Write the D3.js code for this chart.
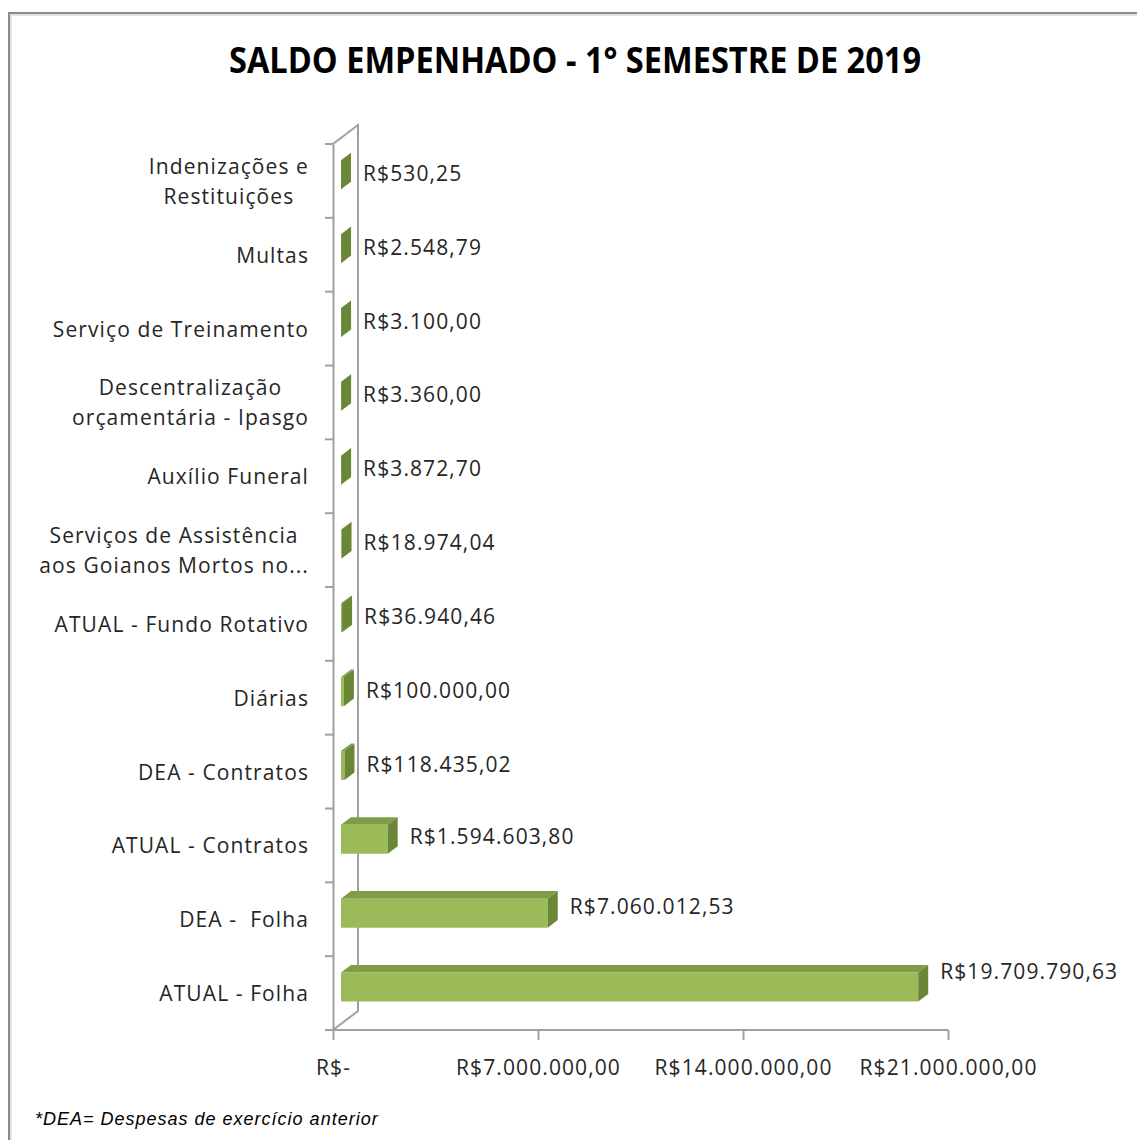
<!DOCTYPE html>
<html>
<head>
<meta charset="utf-8">
<script src="https://cdn.jsdelivr.net/npm/d3@7"></script>
<style>
  body { margin: 0; background: #fff; }
  text { font-family: "Open Sans", sans-serif; fill: #262626; }
</style>
</head>
<body>
<div id="chart"></div>
<script>
// Chart data
var categories = [
    "Indenizações e\nRestituições",
    "Multas",
    "Serviço de Treinamento",
    "Descentralização\norçamentária - Ipasgo",
    "Auxílio Funeral",
    "Serviços de Assistência\naos Goianos Mortos no...",
    "ATUAL - Fundo Rotativo",
    "Diárias",
    "DEA - Contratos",
    "ATUAL - Contratos",
    "DEA -  Folha",
    "ATUAL - Folha"
];
var values = [530.25, 2548.79, 3100.00, 3360.00, 3872.70, 18974.04, 36940.46,
    100000.00, 118435.02, 1594603.80, 7060012.53, 19709790.63];
var xTicks = [0, 7000000, 14000000, 21000000];
var title = "SALDO EMPENHADO - 1° SEMESTRE DE 2019";
var footnote = "*DEA= Despesas de exercício anterior";

// SVG area
var svgWidth = 1137;
var svgHeight = 1140;

// plot area (front plane)
var plot = { left: 333, right: 948, top: 144, bottom: 1030 };

// 3D depth of the side wall and of the bars
var depth = { dx: 25, dy: -19 };
var barFront = 0.32, barBack = 0.72;

var colors = {
    front: "#9bbb59",
    top: "#7f9c47",
    side: "#6a8737",
    axis: "#a0a0a0",
    frame: "#8a8a8a"
};

var labelFont = "21px";
var labelSpacing = "1.1px";

// pt-BR currency format
var ptBR = d3.formatLocale({
    decimal: ",",
    thousands: ".",
    grouping: [3],
    currency: ["R$", ""]
});
var money = ptBR.format("$,.2f");

var svg = d3.select("#chart")
    .append("svg")
    .attr("width", svgWidth)
    .attr("height", svgHeight);

// outer frame of the chart
svg.append("rect")
    .attr("x", 9)
    .attr("y", 13)
    .attr("width", svgWidth + 20)
    .attr("height", svgHeight + 20)
    .attr("fill", "none")
    .attr("stroke", colors.frame)
    .attr("stroke-width", 2);
svg.append("rect")
    .attr("x", 11)
    .attr("y", 15)
    .attr("width", svgWidth + 20)
    .attr("height", svgHeight + 20)
    .attr("fill", "none")
    .attr("stroke", "#dcdcdc")
    .attr("stroke-width", 1.5);

// title
svg.append("text")
    .attr("x", 575)
    .attr("y", 73)
    .attr("text-anchor", "middle")
    .attr("font-size", "35px")
    .attr("font-weight", "bold")
    .attr("textLength", 692)
    .attr("lengthAdjust", "spacingAndGlyphs")
    .style("fill", "#000")
    .text(title);

// scales
var xScale = d3.scaleLinear()
    .domain([0, 21000000])
    .range([plot.left, plot.right]);

var yScale = d3.scaleBand()
    .domain(categories)
    .range([plot.top, plot.bottom]);

// side wall (left) of the 3D frame
svg.append("path")
    .attr("d", d3.line()([
        [plot.left, plot.top],
        [plot.left + depth.dx, plot.top + depth.dy],
        [plot.left + depth.dx, plot.bottom + depth.dy],
        [plot.left, plot.bottom]
    ]))
    .attr("fill", "none")
    .attr("stroke", colors.axis)
    .attr("stroke-width", 2);

// y axis (front edge) with ticks between categories
var leftAxis = d3.axisLeft(yScale).tickSize(0).tickFormat("");
var yAxisG = svg.append("g")
    .attr("transform", `translate(${plot.left}, 0)`)
    .call(leftAxis);
yAxisG.select(".domain").attr("stroke", colors.axis).attr("stroke-width", 2);

var boundaries = categories.map(c => yScale(c)).concat([plot.bottom]);
svg.selectAll(".ytick")
    .data(boundaries)
    .enter()
    .append("line")
    .attr("x1", plot.left - 8)
    .attr("x2", plot.left)
    .attr("y1", d => d)
    .attr("y2", d => d)
    .attr("stroke", colors.axis)
    .attr("stroke-width", 2);

// x axis
var bottomAxis = d3.axisBottom(xScale)
    .tickValues(xTicks)
    .tickSize(10)
    .tickPadding(20)
    .tickFormat(d => d === 0 ? "R$-" : money(d));

var xAxisG = svg.append("g")
    .attr("transform", `translate(0, ${plot.bottom})`)
    .call(bottomAxis);
xAxisG.select(".domain")
    .attr("d", `M${plot.left - 8},0H${plot.right}`)
    .attr("stroke", colors.axis)
    .attr("stroke-width", 2);
xAxisG.selectAll(".tick line").attr("stroke", colors.axis).attr("stroke-width", 2);
xAxisG.selectAll(".tick text")
    .attr("font-size", labelFont)
    .attr("font-family", "Open Sans, sans-serif")
    .attr("letter-spacing", labelSpacing)
    .style("fill", "#262626");

// 3D bars
var fx = barFront * depth.dx, fy = barFront * depth.dy;
var bx = barBack * depth.dx, by = barBack * depth.dy;
var halfH = 14.5;

var barGroups = svg.selectAll(".bar")
    .data(values)
    .enter()
    .append("g")
    .attr("class", "bar");

barGroups.each(function (v, i) {
    var g = d3.select(this);
    var c = yScale(categories[i]) + yScale.bandwidth() / 2;
    var x0 = xScale(0), x1 = xScale(v);
    var t = c - halfH, b = c + halfH;

    // top face
    g.append("path")
        .attr("d", d3.line()([[x0 + fx, t + fy], [x1 + fx, t + fy], [x1 + bx, t + by], [x0 + bx, t + by]]) + "Z")
        .attr("fill", colors.top);
    // front face
    g.append("path")
        .attr("d", d3.line()([[x0 + fx, t + fy], [x1 + fx, t + fy], [x1 + fx, b + fy], [x0 + fx, b + fy]]) + "Z")
        .attr("fill", colors.front);
    // side (end) face
    g.append("path")
        .attr("d", d3.line()([[x1 + fx, t + fy], [x1 + bx, t + by], [x1 + bx, b + by], [x1 + fx, b + fy]]) + "Z")
        .attr("fill", colors.side);

    // value label
    g.append("text")
        .attr("x", x1 + 30)
        .attr("y", c - (x1 - x0) * 0.024)
        .attr("font-size", labelFont)
        .attr("letter-spacing", labelSpacing)
        .text(money(v));
});

// category labels (wrapped ones centred inside their block)
var labelRight = 309;
categories.forEach(function (cat) {
    var lines = cat.split("\n");
    var c = yScale(cat) + yScale.bandwidth() / 2;
    var lineH = 30;
    var txt = svg.append("text")
        .attr("font-size", labelFont)
        .attr("letter-spacing", labelSpacing)
        .style("white-space", "pre");
    var spans = lines.map(function (line, j) {
        return txt.append("tspan")
            .attr("y", c + 8 + (j - (lines.length - 1) / 2) * lineH)
            .text(line);
    });
    if (lines.length === 1) {
        txt.attr("text-anchor", "end");
        spans[0].attr("x", labelRight);
    } else {
        var maxW = d3.max(spans, s => s.node().getComputedTextLength());
        txt.attr("text-anchor", "middle");
        spans.forEach(s => s.attr("x", labelRight - maxW / 2));
    }
});

// footnote
svg.append("text")
    .attr("x", 35)
    .attr("y", 1125)
    .attr("font-style", "italic")
    .attr("font-size", "18px")
    .attr("letter-spacing", "1px")
    .style("font-family", "Liberation Sans, Arial, sans-serif")
    .style("fill", "#000")
    .text(footnote);
</script>
</body>
</html>
